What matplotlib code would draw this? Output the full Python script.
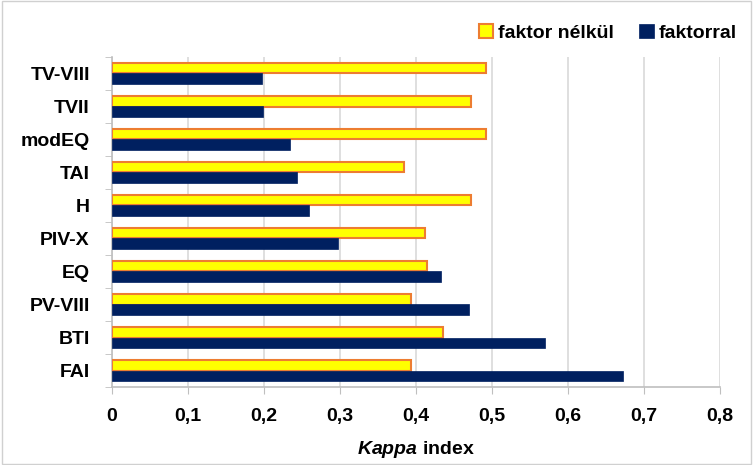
import matplotlib
matplotlib.use("Agg")
import matplotlib.pyplot as plt
import numpy as np
from matplotlib.patches import Rectangle

plt.rcParams['font.family'] = ['Liberation Sans', 'DejaVu Sans']
plt.rcParams['font.weight'] = 'bold'
plt.rcParams['mathtext.fontset'] = 'custom'
plt.rcParams['mathtext.it'] = 'Liberation Sans:italic:bold'
plt.rcParams['mathtext.rm'] = 'Liberation Sans:bold'

categories = ["FAI", "BTI", "PV-VIII", "EQ", "PIV-X", "H", "TAI", "modEQ", "TVII", "TV-VIII"]
faktor_nelkul = [0.394, 0.435, 0.394, 0.415, 0.412, 0.473, 0.384, 0.492, 0.473, 0.492]
faktorral = [0.673, 0.570, 0.470, 0.433, 0.298, 0.259, 0.244, 0.234, 0.199, 0.197]
xticks = [0, 0.1, 0.2, 0.3, 0.4, 0.5, 0.6, 0.7, 0.8]
xticklabels = ["0", "0,1", "0,2", "0,3", "0,4", "0,5", "0,6", "0,7", "0,8"]

fs = 14
fig = plt.figure(figsize=(7.53, 4.65), dpi=100)
ax = fig.add_axes([112/753, 78/465, 608/753, 330/465])

y = np.arange(len(categories))
h = 0.31
ax.barh(y + h/2, faktor_nelkul, height=h, color='#ffff00', edgecolor='#ed7d31',
        linewidth=1.5, label='faktor nélkül', zorder=3)
ax.barh(y - h/2, faktorral, height=h, color='#002060', edgecolor='#002060',
        linewidth=0.5, label='faktorral', zorder=3)

ax.set_xlim(0, 0.8)
ax.set_ylim(-0.5, len(categories) - 0.5)
ax.set_xticks(xticks)
ax.set_xticklabels(xticklabels, fontsize=fs, fontweight='bold')
ax.set_yticks(y)
ax.set_yticklabels(categories, fontsize=fs, fontweight='bold')
ax.set_yticks(np.arange(-0.5, len(categories), 1), minor=True)
ax.tick_params(axis='y', which='major', length=0, pad=16)
ax.tick_params(axis='y', which='minor', length=5, color='#bfbfbf', direction='out')
ax.tick_params(axis='x', length=5, color='#bfbfbf', direction='out', pad=10)
ax.grid(axis='x', color='#d9d9d9', linewidth=1.2, zorder=0)
for s in ['top', 'right']:
    ax.spines[s].set_visible(False)
for s in ['left', 'bottom']:
    ax.spines[s].set_color('#bfbfbf')
    ax.spines[s].set_linewidth(1.2)

ax.set_xlabel(r'$\mathit{Kappa}$ index', fontsize=fs, fontweight='bold', labelpad=10)

ax.legend(loc='lower right', bbox_to_anchor=(1.05, 1.005), ncol=2, frameon=False,
          handlelength=0.75, handleheight=0.75, handletextpad=0.25,
          columnspacing=1.3, borderaxespad=0.3, prop={'weight': 'bold', 'size': fs})

fig.patches.append(Rectangle((0.002, 0.002), 0.996, 0.996, transform=fig.transFigure,
                             fill=False, edgecolor='#d0d0d0', linewidth=1))

fig.savefig('out.png', dpi=100)
